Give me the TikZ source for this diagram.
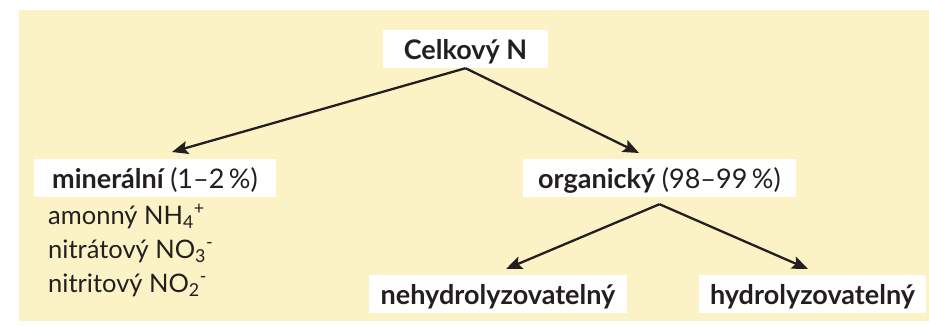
\documentclass[tikz,border=0pt]{standalone}
\usepackage{fontspec}
\setmainfont{Lato}
\usetikzlibrary{arrows.meta}
\definecolor{bg}{HTML}{FBF3C6}
\definecolor{ink}{HTML}{231F20}
\begin{document}
\begin{tikzpicture}[x=1pt,y=-1pt,
  every node/.style={text=ink, font=\fontsize{25.5}{30}\selectfont},
  box/.style={fill=white, inner sep=0pt, text height=29pt, text depth=9pt, font=\fontsize{27}{32}\selectfont\bfseries},
  listitem/.style={anchor=base west, inner sep=0pt},
  arr/.style={draw=ink, line width=2.3pt, -{Stealth[length=16pt,width=13pt,inset=3pt]}}]
\useasboundingbox (0,0) rectangle (929,325);
\fill[bg] (19,10) rectangle (929,321);
\node[box, minimum width=165pt] (cel) at (465.5,49) {Celkový N};
\node[box, minimum width=242pt] (min) at (155,178) {minerální \mdseries(1–2\,\%)};
\node[box, minimum width=273pt] (org) at (659.5,178) {organický \mdseries(98–99\,\%)};
\node[box, minimum width=258pt] (neh) at (498,294) {nehydrolyzovatelný};
\node[box, minimum width=227pt] (hyd) at (812.5,294) {hydrolyzovatelný};
\node[listitem] (l1) at (48,224) {amonný NH\textsubscript{4}\textsuperscript{+}};
\node[listitem] (l2) at (48,258) {nitrátový NO\textsubscript{3}\textsuperscript{-}};
\node[listitem] (l3) at (48,292) {nitritový NO\textsubscript{2}\textsuperscript{-}};
\coordinate (t1) at (172,152);
\coordinate (t2) at (639,153);
\coordinate (t3) at (506,269);
\coordinate (t4) at (808,269);
\draw[arr] (cel.south) -- (t1);
\draw[arr] (cel.south) -- (t2);
\draw[arr] ([yshift=-7pt]org.south) -- (t3);
\draw[arr] ([yshift=-7pt]org.south) -- (t4);
\end{tikzpicture}
\end{document}
